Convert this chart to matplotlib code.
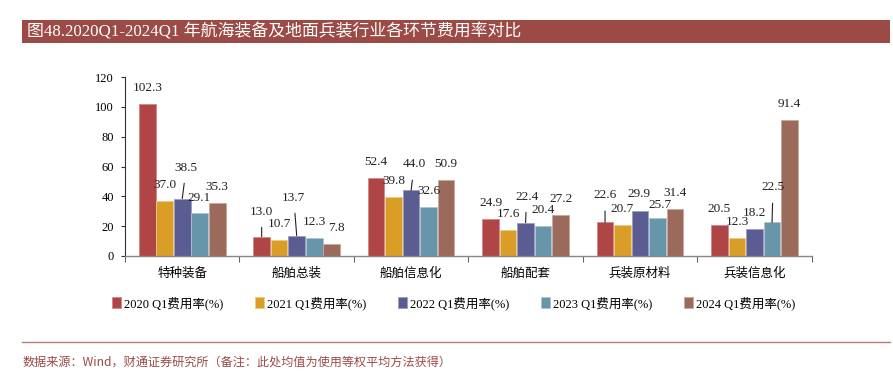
import matplotlib
matplotlib.use('Agg')
import matplotlib.pyplot as plt
from matplotlib.patches import Rectangle
from matplotlib.lines import Line2D
import numpy as np

plt.rcParams['font.family'] = ['Liberation Serif', 'Noto Sans CJK SC', 'DejaVu Sans']

categories = ['特种装备', '船舶总装', '船舶信息化', '船舶配套', '兵装原材料', '兵装信息化']
series_names = ['2020 Q1费用率(%)', '2021 Q1费用率(%)', '2022 Q1费用率(%)',
                '2023 Q1费用率(%)', '2024 Q1费用率(%)']
values = {
    '2020 Q1费用率(%)': [102.3, 13.0, 52.4, 24.9, 22.6, 20.5],
    '2021 Q1费用率(%)': [37.0, 10.7, 39.8, 17.6, 20.7, 12.3],
    '2022 Q1费用率(%)': [38.5, 13.7, 44.0, 22.4, 29.9, 18.2],
    '2023 Q1费用率(%)': [29.1, 12.3, 32.6, 20.4, 25.7, 22.5],
    '2024 Q1费用率(%)': [35.3, 7.8, 50.9, 27.2, 31.4, 91.4],
}
colors = ['#B04545', '#DA9D26', '#5A5C92', '#6795AA', '#9C6A5A']
edge_colors = ['#D08A8A', '#EEC98A', '#9A9CC4', '#A9C6D2', '#C9A79C']

# label offsets (pixels) from the bar top; entries here get a leader line
default_off = (0, 16)
leader_off = {
    (0, 2): (4, 31),
    (1, 0): (0, 25),
    (1, 2): (-3, 38),
    (2, 2): (3, 26),
    (3, 2): (1, 26),
    (4, 0): (0, 27),
    (5, 3): (1, 35),
}
small_off = {
    (1, 4): (5, 16),
    (0, 3): (-1, 15),
    (4, 3): (2, 13),
    (4, 2): (-1, 17),
}

title_color = '#9B4A45'

fig = plt.figure(figsize=(8.93, 3.71), dpi=100)
ax = fig.add_axes([0.140, 0.310, 0.769, 0.482])

n = len(series_names)
x = np.arange(len(categories))
slot = 0.153
bw = 0.145
for j, name in enumerate(series_names):
    pos = x + (j - (n - 1) / 2) * slot
    ax.bar(pos, values[name], width=bw, color=colors[j], edgecolor=edge_colors[j],
           linewidth=0.6, zorder=2)
    for i, v in enumerate(values[name]):
        if (i, j) in leader_off:
            dx, dy = leader_off[(i, j)]
            ax.annotate(f'{v:.1f}', xy=(pos[i], v), xytext=(dx, dy),
                        textcoords='offset pixels', ha='center', va='center',
                        fontsize=9.5, color='#222222',
                        arrowprops=dict(arrowstyle='-', color='#222222', lw=0.8,
                                        shrinkA=5, shrinkB=0))
        else:
            dx, dy = small_off.get((i, j), default_off)
            ax.annotate(f'{v:.1f}', xy=(pos[i], v), xytext=(dx, dy),
                        textcoords='offset pixels', ha='center', va='center',
                        fontsize=9.5, color='#222222')

ax.set_xlim(-0.5, len(categories) - 0.5)
ax.set_ylim(0, 120)
ax.set_yticks(np.arange(0, 121, 20))
ax.tick_params(axis='y', labelsize=9, length=3, width=0.8, color='#333333', pad=5)
ax.set_xticks(x)
ax.set_xticklabels(categories, fontsize=9, family=['Noto Sans CJK SC'])
ax.tick_params(axis='x', length=0, pad=8)
ax.set_xticks(np.arange(-0.5, len(categories), 1), minor=True)
ax.tick_params(axis='x', which='minor', length=4, width=0.8, color='#666666')
for s in ['top', 'right']:
    ax.spines[s].set_visible(False)
ax.spines['left'].set_color('#333333')
ax.spines['left'].set_linewidth(0.8)
ax.spines['bottom'].set_color('#888888')
ax.spines['bottom'].set_linewidth(1.0)

# legend
handles = [Rectangle((0, 0), 1, 1, facecolor=c, edgecolor=e, linewidth=0.6)
           for c, e in zip(colors, edge_colors)]
fig.legend(handles, series_names, loc='center', bbox_to_anchor=(0.508, 0.183),
           ncol=5, frameon=False, fontsize=9, handlelength=0.7, handleheight=0.9,
           handletextpad=0.2, columnspacing=2.6)

# title bar
fig.patches.append(Rectangle((0.025, 0.883), 0.972, 0.063, transform=fig.transFigure,
                             facecolor=title_color, edgecolor='none'))
fig.text(0.030, 0.914, '图48.2020Q1-2024Q1 年航海装备及地面兵装行业各环节费用率对比',
         color='white', fontsize=12.2, va='center', ha='left')

# bottom rule and source
fig.lines.append(Line2D([0.025, 0.997], [0.078, 0.078], transform=fig.transFigure,
                        color='#B77A76', linewidth=1.0))
fig.text(0.025, 0.025, '数据来源：Wind，财通证券研究所（备注：此处均值为使用等权平均方法获得）',
         color=title_color, fontsize=8.7, va='center', ha='left',
         family=['Noto Sans CJK SC'])

fig.savefig('out.png', dpi=100)
